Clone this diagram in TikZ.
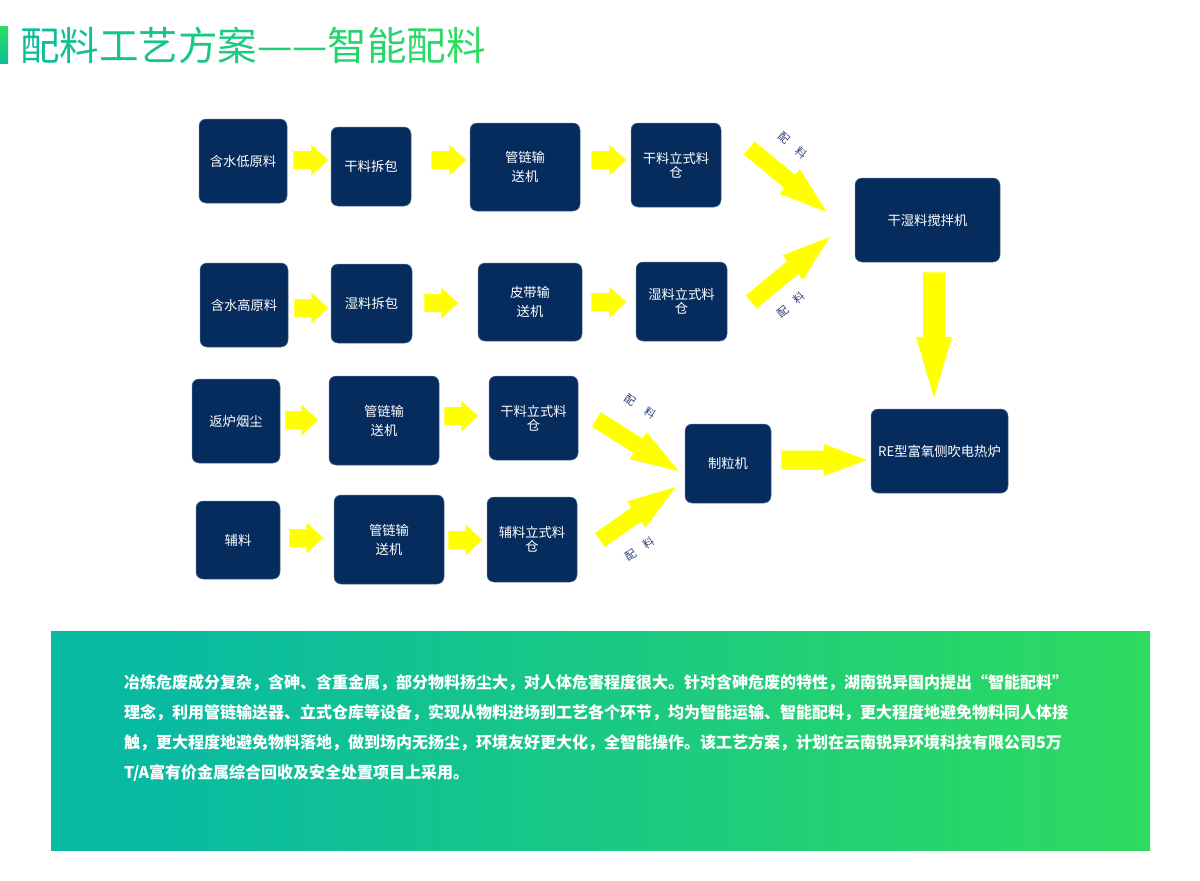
\documentclass[tikz,border=0pt]{standalone}
\usepackage{fontspec}
\setmainfont{Noto Sans CJK SC}
\usetikzlibrary{calc}
\definecolor{boxblue}{RGB}{6,44,94}
\definecolor{arrowyellow}{RGB}{255,255,0}
\definecolor{labblue}{RGB}{45,62,120}
\definecolor{tA}{RGB}{14,189,152}
\definecolor{tB}{RGB}{46,220,98}
\definecolor{pA}{RGB}{9,186,162}
\definecolor{pB}{RGB}{50,222,88}
\colorlet{pM}{pA!35!pB}
\pgfdeclarehorizontalshading{panelshade}{100bp}{color(0bp)=(pA); color(30bp)=(pA); color(62bp)=(pM); color(80bp)=(pB); color(100bp)=(pB)}
\newcommand\blockarrow[5]{%
  \coordinate (ba-h) at ($(#2)!#5!(#1)$);
  \fill[arrowyellow] ($(#1)!#3!90:(#2)$) -- ($(ba-h)!#3!-90:(#1)$) -- ($(ba-h)!#4!-90:(#1)$) -- (#2)
    -- ($(ba-h)!#4!90:(#1)$) -- ($(ba-h)!#3!90:(#1)$) -- ($(#1)!#3!-90:(#2)$) -- cycle;
}
\begin{document}
\begin{tikzpicture}[x=1pt,y=-1pt,
  box/.style={fill=boxblue, draw=boxblue!70!white, line width=0.5pt, rounded corners=7pt,
    text=white, align=center, inner sep=0pt, font=\fontsize{13.3pt}{19pt}\selectfont},
  silo/.style={box, font=\fontsize{13.3pt}{14pt}\selectfont},
  lab/.style={text=labblue, inner sep=0pt, font=\fontsize{11pt}{11pt}\selectfont},
  para/.style={anchor=west, inner sep=0pt, text=white, font=\bfseries\fontsize{16pt}{16pt}\selectfont}]
\useasboundingbox[fill=white] (0,0) rectangle (1200,881);

% title
\shade[top color=tB, bottom color=tA] (0,26) rectangle (8,63);
\node[anchor=west, inner sep=0pt, font=\fontsize{39.5pt}{40pt}\selectfont] (title) at (20,45)
 {\textcolor{tB!0!tA}{配}\textcolor{tB!9!tA}{料}\textcolor{tB!18!tA}{工}\textcolor{tB!27!tA}{艺}\textcolor{tB!36!tA}{方}\textcolor{tB!45!tA}{案}\textcolor{tB!55!tA}{—}\textcolor{tB!64!tA}{—}\textcolor{tB!73!tA}{智}\textcolor{tB!82!tA}{能}\textcolor{tB!91!tA}{配}\textcolor{tB!100!tA}{料}};

% row 1
\node[box, minimum width=88pt, minimum height=84pt] (r1a) at (243,161) {含水低原料};
\node[box, minimum width=80pt, minimum height=79pt] (r1b) at (371,166.5) {干料拆包};
\node[box, minimum width=110pt, minimum height=88pt] (r1c) at (525,167) {管链输\\送机};
\node[silo, minimum width=90pt, minimum height=84pt] (r1d) at (676,165) {干料立式料\\仓};
\node[box, minimum width=145pt, minimum height=84pt] (mix) at (927.5,220) {干湿料搅拌机};
% row 2
\node[box, minimum width=88pt, minimum height=84pt] (r2a) at (244,305) {含水高原料};
\node[box, minimum width=81pt, minimum height=79pt] (r2b) at (371.5,303.5) {湿料拆包};
\node[box, minimum width=104pt, minimum height=78pt] (r2c) at (530,302) {皮带输\\送机};
\node[silo, minimum width=91pt, minimum height=79pt] (r2d) at (681.5,301.5) {湿料立式料\\仓};
% row 3
\node[box, minimum width=88pt, minimum height=84pt] (r3a) at (236,421) {返炉烟尘};
\node[box, minimum width=110pt, minimum height=89pt] (r3b) at (384,420.5) {管链输\\送机};
\node[silo, minimum width=89pt, minimum height=84pt] (r3c) at (533.5,418) {干料立式料\\仓};
\node[box, minimum width=86pt, minimum height=79pt] (gran) at (728,463.5) {制粒机};
\node[box, minimum width=137pt, minimum height=84pt] (furn) at (939.5,451) {RE型富氧侧吹电热炉};
% row 4
\node[box, minimum width=84pt, minimum height=78pt] (r4a) at (238,540) {辅料};
\node[box, minimum width=110pt, minimum height=89pt] (r4b) at (389,539.5) {管链输\\送机};
\node[silo, minimum width=90pt, minimum height=85pt] (r4c) at (532,539.5) {辅料立式料\\仓};

% connector end points
\coordinate (a11s) at ($(r1a.east)+(6,-1)$);    \coordinate (a11e) at ($(a11s)+(35,0)$);
\coordinate (a12s) at ($(r1b.east)+(20,-6.5)$); \coordinate (a12e) at ($(a12s)+(35,0)$);
\coordinate (a13s) at ($(r1c.east)+(11,-7)$);   \coordinate (a13e) at ($(a13s)+(35,0)$);
\coordinate (a21s) at ($(r2a.east)+(6,3)$);     \coordinate (a21e) at ($(a21s)+(34,0)$);
\coordinate (a22s) at ($(r2b.east)+(12,-0.5)$); \coordinate (a22e) at ($(a22s)+(34,0)$);
\coordinate (a23s) at ($(r2c.east)+(9,0)$);     \coordinate (a23e) at ($(a23s)+(35,0)$);
\coordinate (a31s) at ($(r3a.east)+(5,-1)$);    \coordinate (a31e) at ($(a31s)+(33,0)$);
\coordinate (a32s) at ($(r3b.east)+(5,-4.5)$);  \coordinate (a32e) at ($(a32s)+(34,0)$);
\coordinate (a41s) at ($(r4a.east)+(9,-2)$);    \coordinate (a41e) at ($(a41s)+(34,0)$);
\coordinate (a42s) at ($(r4b.east)+(4,0.5)$);   \coordinate (a42e) at ($(a42s)+(34,0)$);
\coordinate (g1s) at ($(gran.east)+(10,-3.5)$); \coordinate (g1e) at ($(furn.west)+(-4,9)$);
\coordinate (v1s) at ($(mix.south)+(6.5,10)$);  \coordinate (v1e) at ($(furn.north)+(-5.5,-11)$);
\coordinate (d1s) at ($(r1d.east)+(28,-17)$);   \coordinate (d1e) at ($(mix.west)+(-28,-8)$);
\coordinate (d2s) at ($(r2d.east)+(24,0.5)$);   \coordinate (d2e) at ($(mix.west)+(-25,17)$);
\coordinate (d3s) at ($(r3c.east)+(18,1.5)$);   \coordinate (d3e) at ($(gran.west)+(-6,7.5)$);
\coordinate (d4s) at ($(r4c.east)+(22.5,0.5)$); \coordinate (d4e) at ($(gran.west)+(-9,23.5)$);

% connectors
\blockarrow{a11s}{a11e}{9pt}{15.5pt}{17pt}
\blockarrow{a12s}{a12e}{9pt}{15.5pt}{17pt}
\blockarrow{a13s}{a13e}{9pt}{15.5pt}{17pt}
\blockarrow{a21s}{a21e}{9pt}{15.5pt}{17pt}
\blockarrow{a22s}{a22e}{9pt}{15.5pt}{17pt}
\blockarrow{a23s}{a23e}{9pt}{15.5pt}{17pt}
\blockarrow{a31s}{a31e}{9pt}{15.5pt}{17pt}
\blockarrow{a32s}{a32e}{9pt}{15.5pt}{17pt}
\blockarrow{a41s}{a41e}{9pt}{15.5pt}{17pt}
\blockarrow{a42s}{a42e}{9pt}{15.5pt}{17pt}
\blockarrow{g1s}{g1e}{9.5pt}{16pt}{43pt}
\blockarrow{v1s}{v1e}{11pt}{18pt}{61pt}
\blockarrow{d1s}{d1e}{8.5pt}{16pt}{48pt}
\blockarrow{d2s}{d2e}{8.5pt}{16pt}{48pt}
\blockarrow{d3s}{d3e}{8.5pt}{16pt}{48pt}
\blockarrow{d4s}{d4e}{8.5pt}{16pt}{48pt}

% connector labels
\node[lab, rotate=-40] (l1) at (793,145) {配\hspace{12pt}料};
\node[lab, rotate=40] (l2) at (791,304.5) {配\hspace{11pt}料};
\node[lab, rotate=-33] (l3) at (640.5,406.5) {配\hspace{12pt}料};
\node[lab, rotate=33] (l4) at (640,548.5) {配\hspace{11pt}料};

% bottom panel
\shade[shading=panelshade] (51,631) rectangle (1150,850);
\node[para] (p1) at (124,683) {冶炼危废成分复杂，含砷、含重金属，部分物料扬尘大，对人体危害程度很大。针对含砷危废的特性，湖南锐异国内提出“智能配料”};
\node[para] (p2) at (124,713) {理念，利用管链输送器、立式仓库等设备，实现从物料进场到工艺各个环节，均为智能运输、智能配料，更大程度地避免物料同人体接};
\node[para] (p3) at (124,743) {触，更大程度地避免物料落地，做到场内无扬尘，环境友好更大化，全智能操作。该工艺方案，计划在云南锐异环境科技有限公司5万};
\node[para] (p4) at (124,773) {T/A富有价金属综合回收及安全处置项目上采用。};
\end{tikzpicture}
\end{document}
